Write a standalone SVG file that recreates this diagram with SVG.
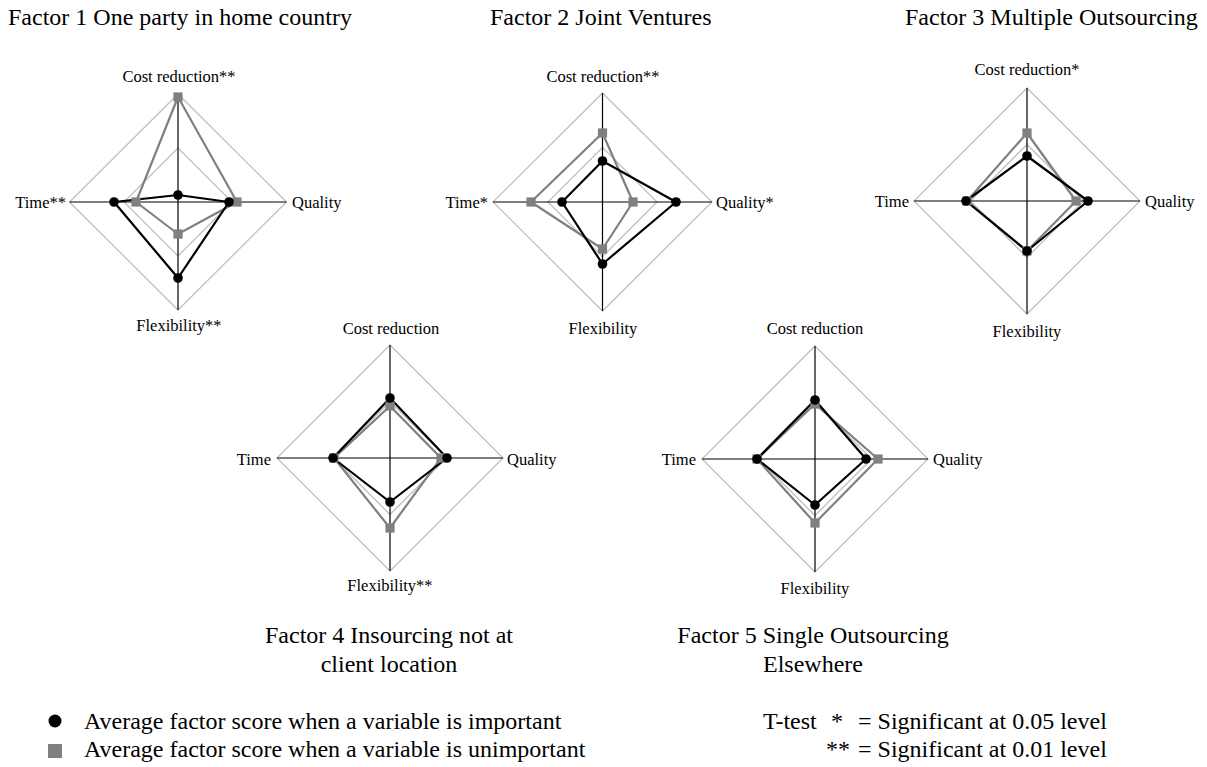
<svg xmlns="http://www.w3.org/2000/svg" xmlns:xlink="http://www.w3.org/1999/xlink" width="1207" height="767" viewBox="0 0 1207 767">
<style>
text{font-family:"Liberation Serif","Times New Roman",serif;fill:#000}
.t{font-size:24px}
.l{font-size:16.5px}
.m{text-anchor:middle}
.e{text-anchor:end}
.grid{fill:none;stroke:#c0c0c0;stroke-width:1.3}
.axis{stroke:#000;stroke-width:1.2;fill:none}
.sg{fill:none;stroke:#808080;stroke-width:2.2;stroke-linejoin:round}
.sb{fill:none;stroke:#000;stroke-width:2.2;stroke-linejoin:round}
.gm{fill:#808080}
.bm{fill:#000}
</style>
<defs>
<circle id="dot" r="4.8"/>
<rect id="sq" x="-4.6" y="-4.6" width="9.2" height="9.2"/>
</defs>
<rect width="1207" height="767" fill="#fff"/>

<g id="titles">
<text class="t" x="8" y="25">Factor 1 One party in home country</text>
<text class="t" x="490" y="25">Factor 2 Joint Ventures</text>
<text class="t" x="905" y="25">Factor 3 Multiple Outsourcing</text>
<text class="t m" x="389" y="643">Factor 4 Insourcing not at</text>
<text class="t m" x="389" y="672">client location</text>
<text class="t m" x="813" y="643">Factor 5 Single Outsourcing</text>
<text class="t m" x="813" y="672">Elsewhere</text>
</g>

<g id="chart1">
<polygon class="grid" points="178,94 286.5,202 178,310 69.5,202"/>
<polygon class="grid" points="178,148 232,202 178,256 124,202"/>
<line class="axis" x1="69.5" y1="202" x2="286.5" y2="202"/>
<line class="axis" x1="178" y1="94" x2="178" y2="310"/>
<polygon class="sg" points="178,97 237,202 178,234 136,202"/>
<polygon class="sb" points="178,195 229,202 178,278 114,202"/>
<g class="gm"><use xlink:href="#sq" x="178" y="97"/><use xlink:href="#sq" x="237" y="202"/><use xlink:href="#sq" x="178" y="234"/><use xlink:href="#sq" x="136" y="202"/></g>
<g class="bm"><use xlink:href="#dot" x="178" y="195"/><use xlink:href="#dot" x="229" y="202"/><use xlink:href="#dot" x="178" y="278"/><use xlink:href="#dot" x="114" y="202"/></g>
<text class="l m" x="179" y="82">Cost reduction**</text>
<text class="l e" x="66" y="208">Time**</text>
<text class="l" x="292" y="208">Quality</text>
<text class="l m" x="179" y="331">Flexibility**</text>
</g>

<g id="chart2">
<polygon class="grid" points="602.5,93 712,202 602.5,311 493,202"/>
<polygon class="grid" points="602.5,147.5 657,202 602.5,256.5 548,202"/>
<line class="axis" x1="493" y1="202" x2="712" y2="202"/>
<line class="axis" x1="602.5" y1="93" x2="602.5" y2="311"/>
<polygon class="sg" points="602.5,133 633,202 602.5,249 531,202"/>
<polygon class="sb" points="602.5,161 676,202 602.5,264 562,202"/>
<g class="gm"><use xlink:href="#sq" x="602.5" y="133"/><use xlink:href="#sq" x="633" y="202"/><use xlink:href="#sq" x="602.5" y="249"/><use xlink:href="#sq" x="531" y="202"/></g>
<g class="bm"><use xlink:href="#dot" x="602.5" y="161"/><use xlink:href="#dot" x="676" y="202"/><use xlink:href="#dot" x="602.5" y="264"/><use xlink:href="#dot" x="562" y="202"/></g>
<text class="l m" x="603" y="82">Cost reduction**</text>
<text class="l e" x="488" y="208">Time*</text>
<text class="l" x="716" y="208">Quality*</text>
<text class="l m" x="603" y="334">Flexibility</text>
</g>

<g id="chart3">
<polygon class="grid" points="1027,88 1140,201 1027,314 914,201"/>
<polygon class="grid" points="1027,144.5 1083.5,201 1027,257.5 970.5,201"/>
<line class="axis" x1="914" y1="201" x2="1140" y2="201"/>
<line class="axis" x1="1027" y1="88" x2="1027" y2="314"/>
<polygon class="sg" points="1027,133 1076,201 1027,251 967,201"/>
<polygon class="sb" points="1027,156 1088,201 1027,251 966,201"/>
<g class="gm"><use xlink:href="#sq" x="1027" y="133"/><use xlink:href="#sq" x="1076" y="201"/><use xlink:href="#sq" x="1027" y="251"/><use xlink:href="#sq" x="967" y="201"/></g>
<g class="bm"><use xlink:href="#dot" x="1027" y="156"/><use xlink:href="#dot" x="1088" y="201"/><use xlink:href="#dot" x="1027" y="251"/><use xlink:href="#dot" x="966" y="201"/></g>
<text class="l m" x="1027" y="75">Cost reduction*</text>
<text class="l e" x="909" y="207">Time</text>
<text class="l" x="1145" y="207">Quality</text>
<text class="l m" x="1027" y="337">Flexibility</text>
</g>

<g id="chart4">
<polygon class="grid" points="390,345 503,458 390,571 277,458"/>
<polygon class="grid" points="390,401.5 446.5,458 390,514.5 333.5,458"/>
<line class="axis" x1="277" y1="458" x2="503" y2="458"/>
<line class="axis" x1="390" y1="345" x2="390" y2="571"/>
<polygon class="sg" points="390,406 441,458 390,528 334,458"/>
<polygon class="sb" points="390,398 447,458 390,502 333,458"/>
<g class="gm"><use xlink:href="#sq" x="390" y="406"/><use xlink:href="#sq" x="441" y="458"/><use xlink:href="#sq" x="390" y="528"/><use xlink:href="#sq" x="334" y="458"/></g>
<g class="bm"><use xlink:href="#dot" x="390" y="398"/><use xlink:href="#dot" x="447" y="458"/><use xlink:href="#dot" x="390" y="502"/><use xlink:href="#dot" x="333" y="458"/></g>
<text class="l m" x="391" y="334">Cost reduction</text>
<text class="l e" x="271" y="465">Time</text>
<text class="l" x="507" y="465">Quality</text>
<text class="l m" x="390" y="591">Flexibility**</text>
</g>

<g id="chart5">
<polygon class="grid" points="815,346 928,459 815,572 702,459"/>
<polygon class="grid" points="815,402.5 871.5,459 815,515.5 758.5,459"/>
<line class="axis" x1="702" y1="459" x2="928" y2="459"/>
<line class="axis" x1="815" y1="346" x2="815" y2="572"/>
<polygon class="sg" points="815,404 878,459 815,523 757,459"/>
<polygon class="sb" points="815,400 866,459 815,505 757,459"/>
<g class="gm"><use xlink:href="#sq" x="815" y="404"/><use xlink:href="#sq" x="878" y="459"/><use xlink:href="#sq" x="815" y="523"/><use xlink:href="#sq" x="757" y="459"/></g>
<g class="bm"><use xlink:href="#dot" x="815" y="400"/><use xlink:href="#dot" x="866" y="459"/><use xlink:href="#dot" x="815" y="505"/><use xlink:href="#dot" x="757" y="459"/></g>
<text class="l m" x="815" y="334">Cost reduction</text>
<text class="l e" x="696" y="465">Time</text>
<text class="l" x="933" y="465">Quality</text>
<text class="l m" x="815" y="594">Flexibility</text>
</g>

<g id="legend">
<circle cx="55" cy="721" r="6.5" fill="#000"/>
<rect x="48" y="744" width="14" height="14" fill="#808080"/>
<text class="t" x="84" y="729">Average factor score when a variable is important</text>
<text class="t" x="84" y="757">Average factor score when a variable is unimportant</text>
<text class="t" x="763" y="729">T-test</text>
<text class="t" x="831" y="729">*</text>
<text class="t" x="858" y="729">= Significant at 0.05 level</text>
<text class="t" x="826" y="757">**</text>
<text class="t" x="858" y="757">= Significant at 0.01 level</text>
</g>
</svg>
